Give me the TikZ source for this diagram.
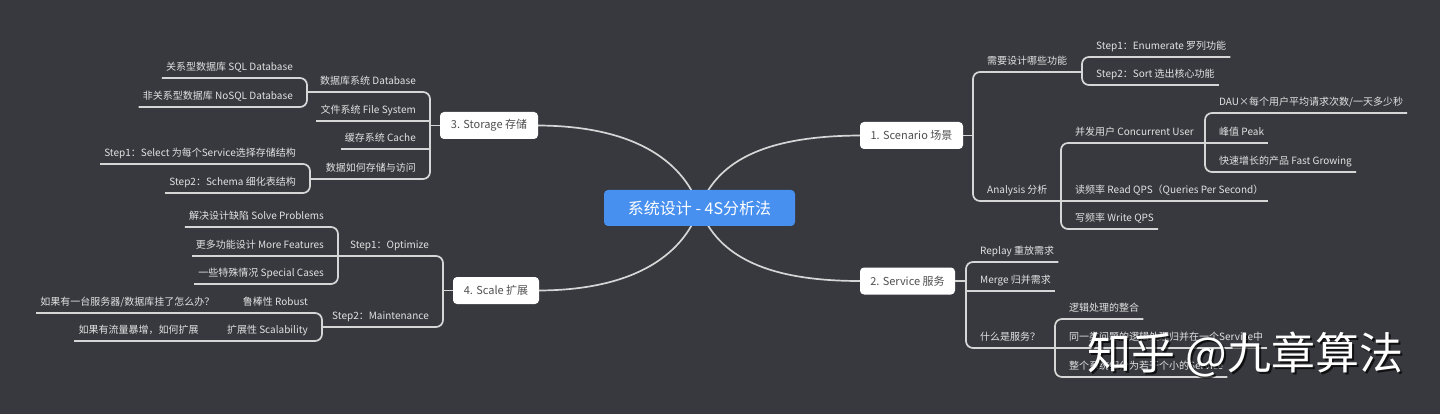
\documentclass[tikz,border=0pt]{standalone}
\usepackage{fontspec}
\setmainfont{Noto Sans CJK SC}
\usetikzlibrary{backgrounds,calc}
\definecolor{bg}{HTML}{37393E}
\definecolor{lnc}{HTML}{D6D6D6}
\definecolor{txt}{HTML}{E2E2E2}
\definecolor{tpc}{HTML}{4F4F4F}
\definecolor{ctrc}{HTML}{4790F0}
\tikzset{
  conn/.style={draw=lnc, line width=1.7pt, rounded corners=7pt},
  curv/.style={draw=lnc, line width=1.7pt},
  lab/.style={text=txt, font=\fontsize{10}{12}\selectfont, inner xsep=4pt, inner ysep=5pt, text height=8pt, text depth=2pt},
  rl/.style={lab, anchor=south west, execute at begin node=\hspace*{10pt}},
  ll/.style={lab, anchor=south east, execute at end node=\hspace*{10pt}},
  topic/.style={fill=white, rounded corners=4pt, text=tpc, font=\fontsize{11}{13}\selectfont, minimum height=27pt, inner sep=0pt},
  mainbox/.style={fill=ctrc, rounded corners=4pt, text=white, font=\fontsize{16}{19}\selectfont, minimum width=191pt, minimum height=36pt, inner sep=0pt},
  wmark/.style={font=\fontsize{44}{50}\selectfont, inner sep=0pt}
}
\begin{document}
\begin{tikzpicture}[x=1pt,y=-1pt]
\useasboundingbox (0,0) rectangle (1440,414);

% central and topics
\node[mainbox] (ctr) at (699.5,208) {系统设计 - 4S分析法};
\node[topic, minimum width=103pt] (t1) at (911.5,135.5) {1. Scenario 场景};
\node[topic, minimum width=95pt] (t2) at (907.5,281) {2. Service 服务};
\node[topic, minimum width=98pt] (t3) at (489,125.5) {3. Storage 存储};
\node[topic, minimum width=86pt] (t4) at (496,290.5) {4. Scale 扩展};

% ---------- right: Scenario ----------
\node[rl] (need) at (973,72) {需要设计哪些功能};
\node[rl] (sa) at (1082,57) {Step1：Enumerate 罗列功能};
\node[rl] (sb) at (1082,85) {Step2：Sort 选出核心功能};
\node[rl] (ana) at (973,201) {Analysis 分析};
\node[rl] (cu) at (1061,143) {并发用户 Concurrent User};
\node[rl] (dau) at (1205,113) {DAU×每个用户平均请求次数/一天多少秒};
\node[rl] (peak) at (1205,143) {峰值 Peak};
\node[rl] (fg) at (1205,172) {快速增长的产品 Fast Growing};
\node[rl] (rd) at (1061,201) {读频率 Read QPS（Queries Per Second）};
\node[rl] (wr) at (1061,229) {写频率 Write QPS};

\draw[conn] (t1.east) -- (t1.east -| need.south west);
\draw[conn] (need.south west -| sa.south west) -- (need.south west) -- (ana.south west) -- (ana.south west -| cu.south west);
\draw[conn] (sa.south east) -- (sa.south west) -- (sb.south west) -- (sb.south east);
\draw[conn] (cu.south west -| dau.south west) -- (cu.south west) -- (wr.south west) -- (wr.south east);
\draw[conn] (rd.south west) -- (rd.south east);
\draw[conn] (dau.south east) -- (dau.south west) -- (fg.south west) -- (fg.south east);
\draw[conn] (peak.south west) -- (peak.south east);

% ---------- right: Service ----------
\node[rl] (replay) at (966,262) {Replay 重放需求};
\node[rl] (merge) at (966,291) {Merge 归并需求};
\node[rl] (what) at (966,348) {什么是服务？};
\node[rl] (logic) at (1055,319) {逻辑处理的整合};
\node[rl] (same) at (1055,348) {同一类问题的逻辑处理归并在一个Service中};
\node[rl] (whole) at (1055,377) {整个系统细分为若干个小的Service};

\draw[conn] (t2.east) -- (t2.east -| replay.south west);
\draw[conn] (replay.south east) -- (replay.south west) -- (what.south west) -- (what.south west -| logic.south west);
\draw[conn] (merge.south west) -- (merge.south east);
\draw[conn] (logic.south east) -- (logic.south west) -- (whole.south west) -- (whole.south east);
\draw[conn] (same.south west) -- (same.south east);

% ---------- left: Storage ----------
\node[ll] (db) at (430,92) {数据库系统 Database};
\node[ll] (sql) at (307,78) {关系型数据库 SQL Database};
\node[ll] (nosql) at (307,107) {非关系型数据库 NoSQL Database};
\node[ll] (fs) at (430,121) {文件系统 File System};
\node[ll] (cache) at (430,149) {缓存系统 Cache};
\node[ll] (how) at (430,179) {数据如何存储与访问};
\node[ll] (sel) at (310,164) {Step1：Select 为每个Service选择存储结构};
\node[ll] (schema) at (310,193) {Step2：Schema 细化表结构};

\draw[conn] (t3.west) -- (t3.west -| db.south east);
\draw[conn] (db.south east -| sql.south east) -- (db.south east) -- (how.south east) -- (how.south east -| sel.south east);
\draw[conn] (fs.south east) -- (fs.south west);
\draw[conn] (cache.south east) -- (cache.south west);
\draw[conn] (sql.south west) -- (sql.south east) -- (nosql.south east) -- (nosql.south west);
\draw[conn] (sel.south west) -- (sel.south east) -- (schema.south east) -- (schema.south west);

% ---------- left: Scale ----------
\node[ll] (opt) at (443,256) {Step1：Optimize};
\node[ll] (solve) at (338,227) {解决设计缺陷 Solve Problems};
\node[ll] (more) at (338,256) {更多功能设计 More Features};
\node[ll] (special) at (338,284) {一些特殊情况 Special Cases};
\node[ll] (maint) at (443,327) {Step2：Maintenance};
\node[ll] (robust) at (322,313) {鲁棒性 Robust};
\node[ll] (scal) at (322,341) {扩展性 Scalability};
\node[ll] (qa) at ($(robust.south west)+(-10,0)$) {如果有一台服务器/数据库挂了怎么办？};
\node[ll] (qb) at ($(scal.south west)+(-10,0)$) {如果有流量暴增，如何扩展};

\draw[conn] (t4.west) -- (t4.west -| opt.south east);
\draw[conn] (opt.south east -| more.south east) -- (opt.south east) -- (maint.south east) -- (maint.south east -| robust.south east);
\draw[conn] (solve.south west) -- (solve.south east) -- (special.south east) -- (special.south west);
\draw[conn] (more.south east) -- (more.south west);
\draw[conn] (robust.south west) -- (robust.south east) -- (scal.south east) -- (scal.south west);
\draw[conn] (robust.south west) -- (qa.south east) -- (qa.south west);
\draw[conn] (scal.south west) -- (qb.south east) -- (qb.south west);

% background and main curves
\begin{scope}[on background layer]
  \fill[bg] (0,0) rectangle (1440,414);
  \draw[curv] (ctr.center) .. controls (718,158) and (770,136) .. (t1.west);
  \draw[curv] (ctr.center) .. controls (718,258) and (770,281) .. (t2.west);
  \draw[curv] (ctr.center) .. controls (682,158) and (630,126) .. (t3.east);
  \draw[curv] (ctr.center) .. controls (682,258) and (630,290) .. (t4.east);
\end{scope}

% watermark
\node[wmark, text=black, opacity=0.7] (wms) at (1247.5,357) {知乎 @九章算法};
\node[wmark, text=white] (wm) at (1245.5,355) {知乎 @九章算法};
\end{tikzpicture}
\end{document}
